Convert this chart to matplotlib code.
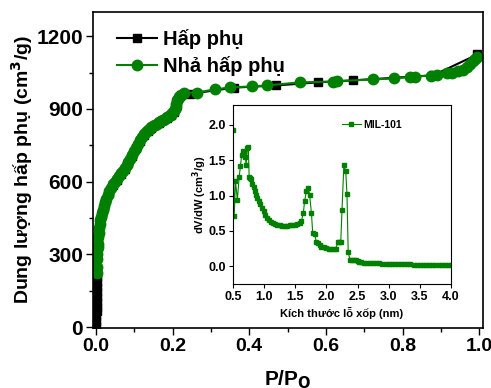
import matplotlib
matplotlib.use("Agg")
import matplotlib.pyplot as plt
from matplotlib.ticker import MultipleLocator

plt.rcParams['font.family'] = ['Liberation Sans', 'DejaVu Sans']
plt.rcParams['font.weight'] = 'bold'

# Isotherm - adsorption (P/Po, cm3/g)
ads_p = [0.0012, 0.0014, 0.0016, 0.0018, 0.002, 0.0021, 0.0022, 0.0023, 0.0024, 0.0025,
         0.0027, 0.003, 0.004, 0.006, 0.008, 0.011, 0.015, 0.02, 0.027, 0.035,
         0.045, 0.055, 0.065, 0.075, 0.085, 0.095, 0.105, 0.115, 0.125, 0.135,
         0.145, 0.155, 0.165, 0.175, 0.185, 0.195, 0.203, 0.208, 0.212, 0.216,
         0.222, 0.245, 0.36, 0.47, 0.58, 0.67, 0.88, 0.995]
ads_v = [5, 25, 45, 65, 85, 105, 125, 145, 165, 185,
         205, 225, 300, 360, 400, 435, 465, 495, 525, 555,
         585, 608, 632, 652, 678, 708, 738, 768, 793, 810,
         823, 833, 843, 853, 863, 875, 888, 908, 933, 948,
         956, 962, 988, 997, 1010, 1018, 1039, 1125]

# Isotherm - desorption
des_p = [0.995, 0.99, 0.984, 0.977, 0.969, 0.958, 0.945, 0.93, 0.916, 0.89,
         0.875, 0.833, 0.82, 0.778, 0.723, 0.63, 0.618, 0.533, 0.446, 0.407,
         0.35, 0.311, 0.264, 0.23,
         0.222, 0.219, 0.216, 0.214, 0.212, 0.21, 0.208, 0.2055, 0.203, 0.199,
         0.195, 0.19, 0.185, 0.18, 0.175, 0.17, 0.165, 0.16, 0.155, 0.15,
         0.145, 0.14, 0.135, 0.13, 0.125, 0.12, 0.115, 0.11, 0.105, 0.1,
         0.095, 0.09, 0.085, 0.08, 0.075, 0.07, 0.065, 0.06, 0.055, 0.05,
         0.045, 0.04, 0.035, 0.031, 0.027, 0.023, 0.02, 0.0175, 0.015, 0.013,
         0.011, 0.0095, 0.008, 0.007, 0.006, 0.005, 0.0045, 0.004, 0.0035, 0.003,
         0.0025, 0.002]
des_v = [1113, 1105, 1097, 1085, 1072, 1062, 1055, 1050, 1047, 1040,
         1038, 1034, 1032, 1026, 1022, 1015, 1013, 1010, 997, 993,
         989, 981, 968, 966,
         958, 955, 950, 943, 935, 922, 910, 900, 890, 883,
         877, 871, 865, 860, 855, 850, 845, 840, 835, 830,
         825, 819, 812, 804, 795, 783, 770, 755, 740, 725,
         710, 695, 680, 667, 655, 645, 635, 622, 610, 600,
         590, 575, 560, 545, 530, 515, 500, 485, 470, 455,
         440, 425, 410, 390, 370, 345, 332, 320, 300, 280,
         250, 225]

# Pore size distribution (nm, cm3/g)
pore_w = [0.50, 0.52, 0.54, 0.57, 0.60, 0.62, 0.64, 0.66, 0.68, 0.70,
          0.71, 0.73, 0.745, 0.76, 0.78, 0.79, 0.81, 0.83, 0.85, 0.87,
          0.89, 0.91, 0.93, 0.96, 0.99, 1.02, 1.05, 1.08, 1.11, 1.14,
          1.17, 1.21, 1.25, 1.29, 1.33, 1.37, 1.41, 1.45, 1.49, 1.53,
          1.57, 1.60, 1.63, 1.65, 1.68, 1.71, 1.73, 1.76, 1.78, 1.81,
          1.84, 1.86, 1.89, 1.92, 1.96, 2.00, 2.04, 2.08, 2.12, 2.15,
          2.18, 2.21, 2.23, 2.25, 2.28, 2.31, 2.33, 2.35, 2.38, 2.41,
          2.44, 2.47, 2.50, 2.53, 2.56, 2.60, 2.65, 2.70, 2.75, 2.80,
          2.85, 2.90, 2.95, 3.00, 3.05, 3.10, 3.15, 3.20, 3.25, 3.30,
          3.35, 3.40, 3.45, 3.50, 3.55, 3.60, 3.65, 3.70, 3.75, 3.80,
          3.85, 3.90, 3.95, 4.00]
dvdw = [1.925, 0.71, 1.21, 0.94, 1.27, 1.42, 1.58, 1.63, 1.62, 1.55,
        1.43, 1.67, 1.69, 1.27, 1.25, 1.24, 1.17, 1.12, 1.06, 1.01,
        0.97, 0.92, 0.88, 0.83, 0.78, 0.73, 0.69, 0.65, 0.63, 0.61,
        0.60, 0.59, 0.58, 0.575, 0.575, 0.575, 0.58, 0.585, 0.59, 0.60,
        0.615, 0.64, 0.76, 0.92, 1.07, 1.11, 1.01, 0.75, 0.47, 0.46,
        0.34, 0.33, 0.30, 0.28, 0.27, 0.26, 0.25, 0.245, 0.24, 0.24,
        0.34, 0.34, 0.34, 0.79, 1.43, 1.35, 1.02, 0.20, 0.09, 0.09,
        0.09, 0.085, 0.08, 0.065, 0.055, 0.052, 0.05, 0.048, 0.046, 0.044,
        0.042, 0.04, 0.038, 0.036, 0.034, 0.033, 0.032, 0.03, 0.029, 0.028,
        0.027, 0.026, 0.025, 0.024, 0.023, 0.022, 0.021, 0.02, 0.019, 0.018,
        0.017, 0.016, 0.016, 0.015]

fig = plt.figure(figsize=(4.91, 3.88), dpi=100)
ax = fig.add_axes([0.189, 0.155, 0.795, 0.814])

ax.plot(ads_p, ads_v, color='black', marker='s', ms=6, lw=1.5, label='Hấp phụ')
ax.plot(des_p, des_v, color='green', marker='o', ms=7.5, lw=1.5, label='Nhả hấp phụ')

ax.set_xlim(-0.008, 1.01)
ax.set_ylim(-3, 1300)
ax.xaxis.set_major_locator(MultipleLocator(0.2))
ax.xaxis.set_minor_locator(MultipleLocator(0.1))
ax.yaxis.set_major_locator(MultipleLocator(300))
ax.yaxis.set_minor_locator(MultipleLocator(150))
ax.tick_params(which='both', direction='out', width=1)
ax.tick_params(which='major', length=5)
ax.tick_params(which='minor', length=3)
ax.tick_params(axis='x', labelsize=14, pad=2)
ax.tick_params(axis='y', labelsize=15, pad=2)
for s in ax.spines.values():
    s.set_linewidth(1.2)
ax.set_xlabel('P/P$_\\mathbf{O}$', fontsize=15, fontweight='bold', labelpad=10)
ax.set_ylabel('Dung lượng hấp phụ (cm$^\\mathbf{3}$/g)', fontsize=14, fontweight='bold', labelpad=1)
ax.legend(loc='upper left', frameon=False, fontsize=14.5, numpoints=1,
          handlelength=2.0, handletextpad=0.3, labelspacing=0.35,
          bbox_to_anchor=(0.03, 0.985), borderaxespad=0.2)

# Inset: pore size distribution
ins = fig.add_axes([0.4745, 0.268, 0.444, 0.461])
ins.plot(pore_w, dvdw, color='green', marker='s', ms=3.5, lw=0.8, label='MIL-101')
ins.set_xlim(0.5, 4.0)
ins.set_ylim(-0.25, 2.28)
ins.xaxis.set_major_locator(MultipleLocator(0.5))
ins.yaxis.set_major_locator(MultipleLocator(0.5))
ins.tick_params(direction='out', length=3, width=0.8, labelsize=9, pad=2)
ins.set_xlabel('Kích thước lỗ xốp (nm)', fontsize=8, fontweight='bold', labelpad=3)
ins.set_ylabel('dV/dW (cm$^\\mathbf{3}$/g)', fontsize=8, fontweight='bold', labelpad=0)
ins.legend(loc='upper right', frameon=False, fontsize=7.5, numpoints=1,
           handlelength=1.8, handletextpad=0.3, bbox_to_anchor=(0.82, 0.97))

fig.savefig('out.png', dpi=100)
